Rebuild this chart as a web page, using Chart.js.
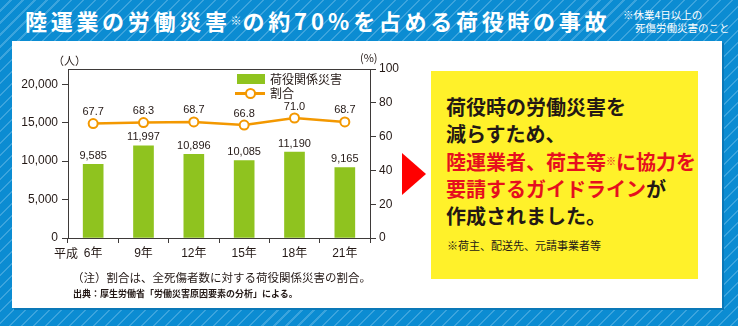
<!DOCTYPE html>
<html lang="ja">
<head>
<meta charset="utf-8">
<script src="https://cdn.jsdelivr.net/npm/chart.js@4.4.1/dist/chart.umd.min.js"></script>
<style>
  html, body { margin: 0; padding: 0; }
  body {
    width: 738px; height: 326px; overflow: hidden; position: relative;
    background: repeating-linear-gradient(135deg, #0b8cd2 0 7px, #3ba4dd 7px 8.5px);
    font-family: "Noto Sans CJK JP", sans-serif; color: #231815;
  }
  .abs { position: absolute; white-space: nowrap; }
  #panel { left: 12px; top: 41px; width: 710px; height: 267px; background: #fff;
    box-shadow: 2px 2px 0 #0a78b8; }
  #title { left: 25px; top: 8px; font-size: 22px; line-height: 24px; color: #fff;
    letter-spacing: 3.7px; font-weight: 700; }
  #title .s { font-size: 11px; vertical-align: 5px; letter-spacing: 1px; font-weight: 400; }
  #title .n { letter-spacing: 4px; }
  #note { left: 623px; top: 8px; font-size: 10.5px; line-height: 13px; color: #fff; }
  #chart { position: absolute; left: 0; top: 0; }
  .unit { font-size: 11px; line-height: 12px; }
  .leg { font-size: 12px; line-height: 14px; }
  #yellow { left: 431px; top: 71px; width: 267px; height: 208px; background: #fff12a; }
  #msg { left: 446px; top: 93px; font-size: 20px; line-height: 27px; font-weight: 700; }
  #msg .r { color: #e60f1e; }
  #msg .s { font-size: 10px; vertical-align: 5px; }
  #arrow { left: 402px; top: 153px; width: 0; height: 0;
    border-top: 21px solid transparent; border-bottom: 21px solid transparent;
    border-left: 24px solid #ff0000; }
</style>
</head>
<body>
<div id="panel" class="abs"></div>
<div id="title" class="abs">陸運業の労働災害<span class="s">※</span>の約<span class="n">70%</span>を占める荷役時の事故</div>
<div id="note" class="abs">※休業4日以上の<br><span style="padding-left:12px">死傷労働災害のこと</span></div>
<canvas id="chart" width="738" height="326"></canvas>
<div class="abs unit" style="left:53px;top:54px">（人）</div>
<div class="abs unit" style="left:360px;top:51px">(%)</div>
<div class="abs" style="left:237px;top:74px;width:28px;height:10px;background:#8fc31f"></div>
<div class="abs leg" style="left:270px;top:72px">荷役関係災害</div>
<div class="abs" style="left:235px;top:92px;width:30px;height:3px;background:#f39800"></div>
<div class="abs" style="left:245px;top:88px;width:7px;height:7px;border:2px solid #f39800;border-radius:50%;background:#fff"></div>
<div class="abs leg" style="left:270px;top:86px">割合</div>
<div class="abs" style="left:72px;top:270px;font-size:11.5px;line-height:14px">（注）割合は、全死傷者数に対する荷役関係災害の割合。</div>
<div class="abs" style="left:73px;top:288px;font-size:9px;line-height:11px;font-weight:700">出典：厚生労働省「労働災害原因要素の分析」による。</div>
<div id="arrow" class="abs"></div>
<div id="yellow" class="abs"></div>
<div id="msg" class="abs">荷役時の労働災害を<br>減らすため、<br><span class="r">陸運業者、荷主等<span class="s">※</span>に協力を<br>要請するガイドライン</span>が<br>作成されました。</div>
<div class="abs" style="left:447px;top:238px;font-size:11px;line-height:14px">※荷主、配送先、元請事業者等</div>
<script>
const years = ['6年', '9年', '12年', '15年', '18年', '21年'];
const eraLabel = '平成';
const accidents = [9585, 11997, 10896, 10085, 11190, 9165];
const ratio = [67.7, 68.3, 68.7, 66.8, 71.0, 68.7];
const leftTicks = [0, 5000, 10000, 15000, 20000];
const rightTicks = [0, 20, 40, 60, 80, 100];

const ink = '#231815';
const axisColor = '#3e3a39';
const tickFont = { family: '"Liberation Sans", "Noto Sans CJK JP", sans-serif', size: 12 };

const valueLabels = {
  id: 'valueLabels',
  afterDatasetsDraw(chart) {
    const ctx = chart.ctx;
    ctx.save();
    ctx.fillStyle = ink;
    ctx.font = '11px "Liberation Sans", sans-serif';
    ctx.textAlign = 'center';
    ctx.textBaseline = 'bottom';
    chart.getDatasetMeta(1).data.forEach((el, i) => {
      ctx.fillText(accidents[i].toLocaleString('en-US'), el.x, el.y - 3);
    });
    chart.getDatasetMeta(0).data.forEach((el, i) => {
      ctx.fillText(ratio[i].toFixed(1), el.x, el.y - 6);
    });
    // frame top line
    const a = chart.chartArea;
    ctx.strokeStyle = axisColor;
    ctx.lineWidth = 1;
    ctx.beginPath();
    ctx.moveTo(a.left, a.top + 0.5);
    ctx.lineTo(a.right, a.top + 0.5);
    ctx.stroke();
    // era label before first year
    ctx.font = '12px "Noto Sans CJK JP", sans-serif';
    ctx.textBaseline = 'middle';
    ctx.fillText(eraLabel, 66, 253);
    ctx.restore();
  }
};

new Chart(document.getElementById('chart'), {
  data: {
    labels: years,
    datasets: [{
      type: 'line',
      data: ratio,
      yAxisID: 'y1',
      order: 0,
      borderColor: '#f39800',
      borderWidth: 2.5,
      tension: 0,
      pointRadius: 4.5,
      pointBorderWidth: 2,
      pointBackgroundColor: '#fff',
      pointBorderColor: '#f39800'
    }, {
      type: 'bar',
      data: accidents,
      yAxisID: 'y',
      order: 1,
      backgroundColor: '#8fc31f',
      barThickness: 20
    }]
  },
  options: {
    responsive: false,
    animation: false,
    devicePixelRatio: 1,
    layout: { padding: { top: 69, left: 0, right: 0, bottom: 0 } },
    plugins: { legend: { display: false }, tooltip: { enabled: false } },
    scales: {
      x: {
        offset: true,
        grid: { display: true, drawOnChartArea: false, drawTicks: true, tickLength: 5, color: axisColor, offset: true },
        border: { color: axisColor },
        ticks: { color: ink, font: tickFont, padding: 3, maxRotation: 0 },
        afterFit(s) { s.height = 88; }
      },
      y: {
        position: 'left',
        min: 0, max: 22000,
        grid: { drawOnChartArea: false, tickLength: 6, color: axisColor },
        border: { color: axisColor },
        ticks: { color: ink, font: tickFont, padding: 4,
          callback: v => v.toLocaleString('en-US') },
        afterBuildTicks(s) { s.ticks = leftTicks.map(v => ({ value: v })); },
        afterFit(s) { s.width = 68; }
      },
      y1: {
        position: 'right',
        min: 0, max: 100,
        grid: { drawOnChartArea: false, tickLength: 6, color: axisColor },
        border: { color: axisColor },
        ticks: { color: ink, font: tickFont, padding: 3 },
        afterBuildTicks(s) { s.ticks = rightTicks.map(v => ({ value: v })); },
        afterFit(s) { s.width = 368; }
      }
    }
  },
  plugins: [valueLabels]
});
</script>
</body>
</html>
